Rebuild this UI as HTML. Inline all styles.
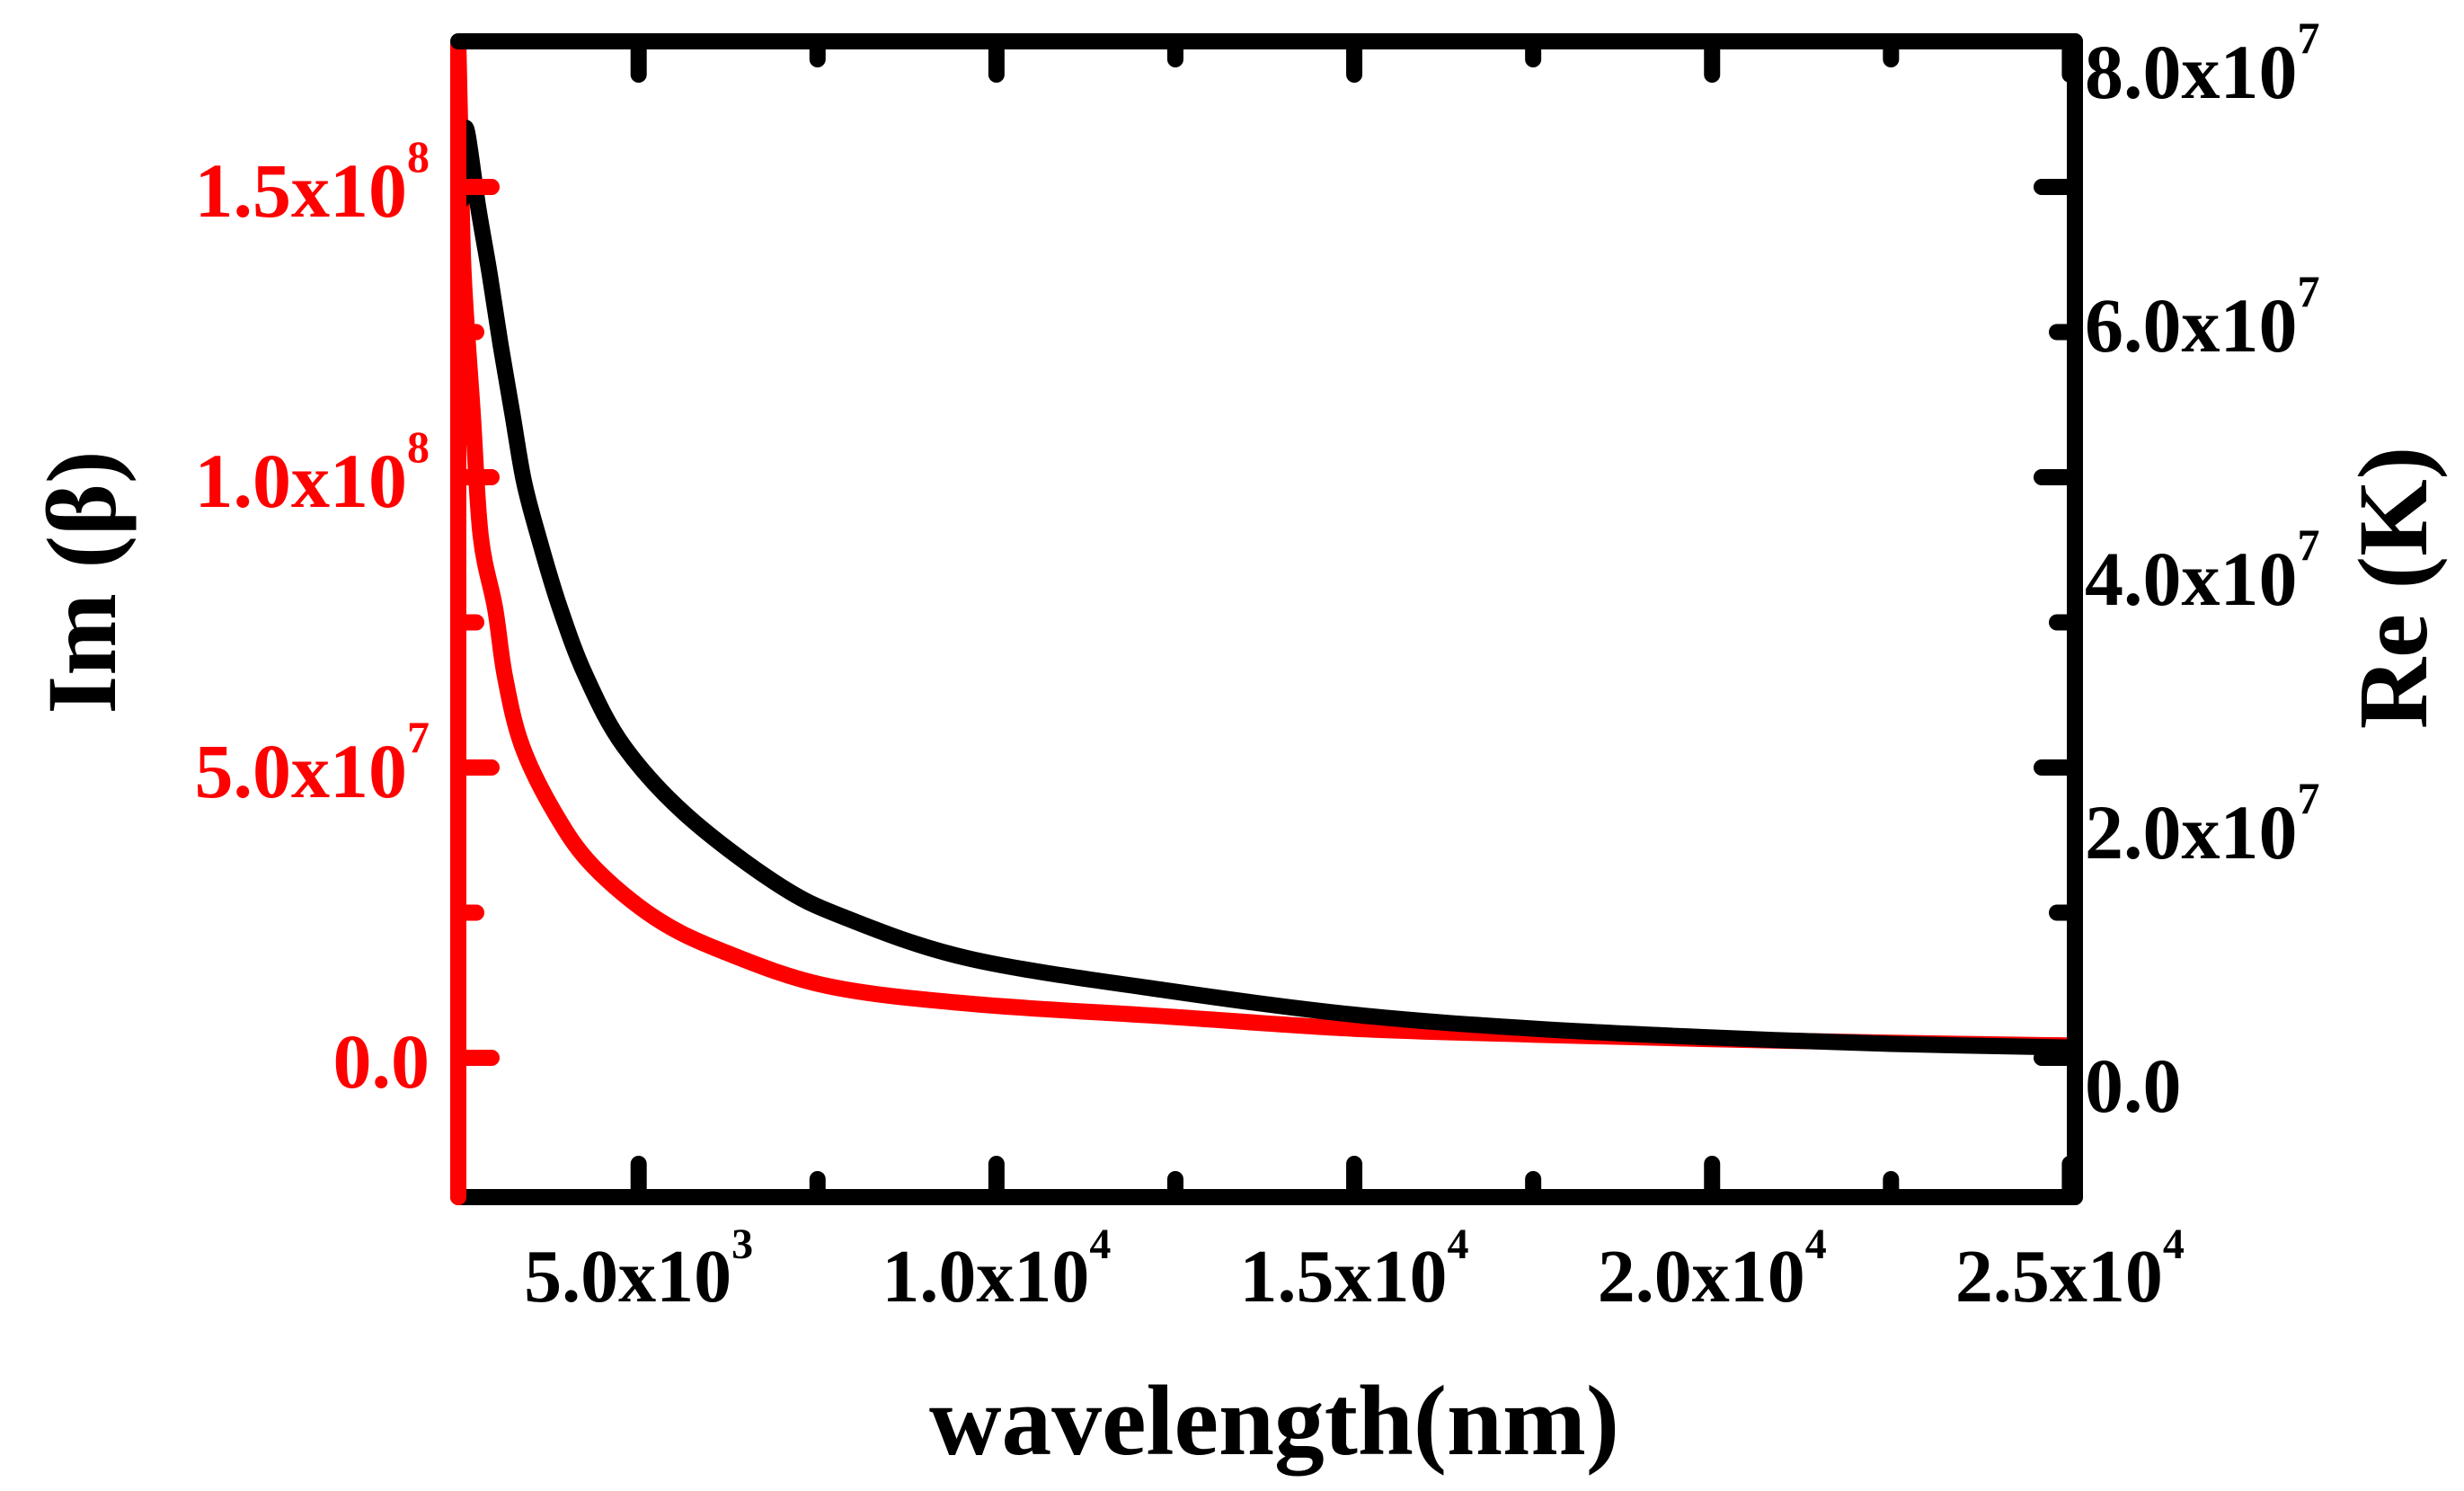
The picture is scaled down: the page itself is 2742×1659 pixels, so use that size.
<!DOCTYPE html>
<html><head><meta charset="utf-8"><style>
html,body{margin:0;padding:0;background:#fff;}
svg{display:block;}
text{font-family:"Liberation Serif",serif;font-weight:bold;}
</style></head><body>
<svg id="chart" width="2742" height="1659" viewBox="0 0 2742 1659" xmlns="http://www.w3.org/2000/svg">
<defs><clipPath id="plotclip"><rect x="505" y="40" width="1804" height="1292"/></clipPath></defs>
<g id="curves" clip-path="url(#plotclip)"></g>
<g id="axes"></g>
<g id="labels"></g>
<text x="1418" y="1618" font-size="111" text-anchor="middle" textLength="768" lengthAdjust="spacingAndGlyphs">wavelength(nm)</text>
<text transform="translate(128,648) rotate(-90)" font-size="110" text-anchor="middle">Im (β)</text>
<text transform="translate(2700,654) rotate(-90)" font-size="110" text-anchor="middle">Re (K)</text>
</svg>
<script>
const wavelengthRed = [2480,2515,2555,2681,2794,2995,3133,3372,3837,4364,5231,6186,7631,9641,12400,15000,17500,20000,22500,25070];
const imBeta = [1.75e8,1.55e8,1.348e8,1.111e8,8.98e7,7.74e7,6.56e7,5.37e7,4.2e7,3.3e7,2.41e7,1.83e7,1.24e7,9.3e6,7.1e6,5.0e6,4.0e6,3.2e6,2.6e6,2.1e6];
const wavelengthBlack = [2530,2560,2606,2756,2920,3070,3234,3397,3611,3900,4264,4792,5659,6915,7870,9641,12400,15000,17500,20000,22500,25070];
const reK = [6.99e7,7.45e7,7.52e7,6.94e7,6.4e7,5.85e7,5.31e7,4.77e7,4.31e7,3.77e7,3.23e7,2.68e7,2.14e7,1.6e7,1.33e7,1.0e7,7.5e6,5.6e6,4.5e6,3.8e6,3.3e6,3.0e6];
const xMajorTicks = [5000,10000,15000,20000,25000];
const xMinorTicks = [2500,7500,12500,17500,22500];
const xTickMantissa = ["5.0","1.0","1.5","2.0","2.5"];
const xTickExp = ["3","4","4","4","4"];
const leftMajorTicks = [0,5e7,1e8,1.5e8];
const leftMinorTicks = [2.5e7,7.5e7,1.25e8];
const leftTickMantissa = ["0.0","5.0","1.0","1.5"];
const leftTickExp = ["","7","8","8"];
const rightTicks = [0,2e7,4e7,6e7,8e7];
const rightTickMantissa = ["0.0","2.0","4.0","6.0","8.0"];
const rightTickExp = ["","7","7","7","7"];

const NS="http://www.w3.org/2000/svg";
const X0=510,X1=2309,Y0=1332,Y1=46;
const xMin=2480,xMax=25070;
function xs(v){return X0+(v-xMin)/(xMax-xMin)*(X1-X0);}
function yl(v){return 1177-(v/5e7)*323;}
function yr(v){return 1208-(v/2e7)*282;}
function mk(tag,attrs,parent){const e=document.createElementNS(NS,tag);for(const k in attrs)e.setAttribute(k,attrs[k]);parent.appendChild(e);return e;}

function smoothPath(pts){
  let d="M"+pts[0][0].toFixed(1)+","+pts[0][1].toFixed(1);
  for(let i=0;i<pts.length-1;i++){
    const p0=pts[Math.max(0,i-1)],p1=pts[i],p2=pts[i+1],p3=pts[Math.min(pts.length-1,i+2)];
    const c1x=p1[0]+(p2[0]-p0[0])/6,c1y=p1[1]+(p2[1]-p0[1])/6;
    const c2x=p2[0]-(p3[0]-p1[0])/6,c2y=p2[1]-(p3[1]-p1[1])/6;
    d+=" C"+c1x.toFixed(1)+","+c1y.toFixed(1)+" "+c2x.toFixed(1)+","+c2y.toFixed(1)+" "+p2[0].toFixed(1)+","+p2[1].toFixed(1);
  }
  return d;
}
const curves=document.getElementById('curves');
const redPts=wavelengthRed.map((w,i)=>[xs(w),yl(imBeta[i])]);
const red=mk('path',{d:smoothPath(redPts),fill:'none',stroke:'#ff0000','stroke-width':18,'stroke-linejoin':'round','stroke-linecap':'round'},curves);


const blkPts=wavelengthBlack.map((w,i)=>[xs(w),yr(reK[i])]);
const blk=mk('path',{d:smoothPath(blkPts),fill:'none',stroke:'#000','stroke-width':18,'stroke-linejoin':'round','stroke-linecap':'round'},curves);



const axes=document.getElementById('axes');
function line(x1,y1,x2,y2,c,name){const l=mk('line',{x1,y1,x2,y2,stroke:c,'stroke-width':18,'stroke-linecap':'round'},axes);return l;}
line(X0,Y0,X1,Y0,'#000','x-axis-bottom');
line(X1,Y1,X1,Y0,'#000','right-y-axis');
line(X0,50,X0,Y0,'#ff0000','left-y-axis');
line(X0,Y1,X1,Y1,'#000','x-axis-top');
xMajorTicks.forEach(v=>{line(xs(v),Y0,xs(v),Y0-37,'#000','x-major-tick');line(xs(v),Y1,xs(v),Y1+37,'#000','x-top-major-tick');});
xMinorTicks.forEach(v=>{if(xs(v)>X0+5){line(xs(v),Y0,xs(v),Y0-20,'#000','x-minor-tick');line(xs(v),Y1,xs(v),Y1+20,'#000','x-top-minor-tick');}});
leftMajorTicks.forEach(v=>{line(X0,yl(v),X0+37,yl(v),'#ff0000','left-major-tick');line(X1,yl(v),X1-37,yl(v),'#000','right-major-tick');});
leftMinorTicks.forEach(v=>{line(X0,yl(v),X0+20,yl(v),'#ff0000','left-minor-tick');line(X1,yl(v),X1-20,yl(v),'#000','right-minor-tick');});

const labels=document.getElementById('labels');
xMajorTicks.forEach((v,i)=>{
  const t=mk('text',{x:xs(v),y:1448,'font-size':84,'text-anchor':'middle',fill:'#000'},labels);
  
  
  t.appendChild(document.createTextNode(xTickMantissa[i]+"x10"));
  const s=mk('tspan',{'font-size':48,dy:-48},t);s.textContent=xTickExp[i];
});
leftMajorTicks.forEach((v,i)=>{
  const t=mk('text',{x:478,y:yl(v)+33,'font-size':86,'text-anchor':'end',fill:'#ff0000'},labels);
  
  
  t.appendChild(document.createTextNode(leftTickMantissa[i]+(leftTickExp[i]?"x10":"")));
  if(leftTickExp[i]){const s=mk('tspan',{'font-size':50,dy:-50},t);s.textContent=leftTickExp[i];}
});
rightTicks.forEach((v,i)=>{
  const t=mk('text',{x:2320,y:yr(v)+29,'font-size':86,'text-anchor':'start',fill:'#000'},labels);
  
  
  t.appendChild(document.createTextNode(rightTickMantissa[i]+(rightTickExp[i]?"x10":"")));
  if(rightTickExp[i]){const s=mk('tspan',{'font-size':50,dy:-50},t);s.textContent=rightTickExp[i];}
});
</script>
</body></html>
